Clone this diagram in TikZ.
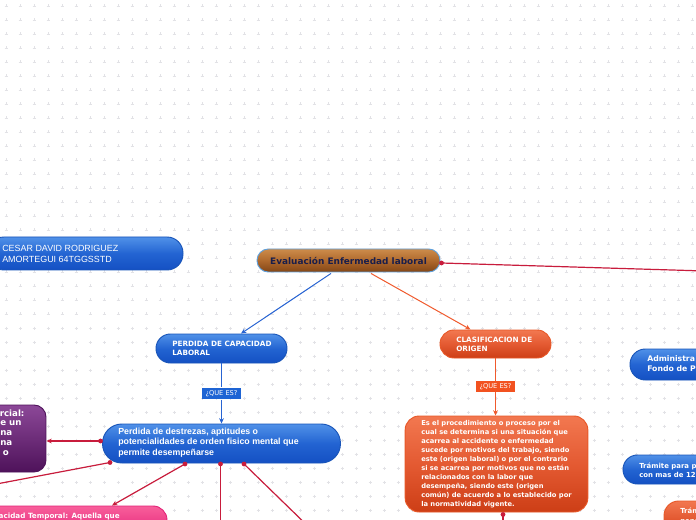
\documentclass[tikz,border=0pt]{standalone}
\usepackage{fontspec}
\setmainfont{Liberation Sans}
\newfontfamily\dejavu{DejaVu Sans}
\usetikzlibrary{arrows.meta,calc}
\definecolor{bluetop}{RGB}{80,145,232}
\definecolor{bluemid}{RGB}{35,100,210}
\definecolor{bluebot}{RGB}{20,80,195}
\definecolor{bluebd}{RGB}{25,85,185}
\definecolor{browntop}{RGB}{205,140,75}
\definecolor{brownmid}{RGB}{175,105,45}
\definecolor{brownbot}{RGB}{130,70,22}
\definecolor{titlebd}{RGB}{95,160,220}
\definecolor{titletxt}{RGB}{25,30,75}
\definecolor{orgtop}{RGB}{242,120,80}
\definecolor{orgmid}{RGB}{228,90,50}
\definecolor{orgbot}{RGB}{205,62,22}
\definecolor{orgbd}{RGB}{232,88,40}
\definecolor{purtop}{RGB}{140,72,152}
\definecolor{purbot}{RGB}{78,18,90}
\definecolor{pinktop}{RGB}{248,95,155}
\definecolor{pinkbot}{RGB}{228,35,120}
\definecolor{qblue}{RGB}{30,100,212}
\definecolor{qorg}{RGB}{242,82,32}
\definecolor{lblue}{RGB}{40,100,210}
\definecolor{lorg}{RGB}{240,90,45}
\definecolor{lred}{RGB}{200,28,60}
\definecolor{gridc}{RGB}{226,226,230}
\tikzset{
  shp/.style={rectangle, inner sep=0pt, line width=0.7pt},
  blueN/.style={shp, draw=bluebd, top color=bluetop, bottom color=bluebot, middle color=bluemid},
  brownN/.style={shp, draw=titlebd, top color=browntop, bottom color=brownbot, middle color=brownmid},
  orgN/.style={shp, draw=orgbd, top color=orgtop, bottom color=orgbot, middle color=orgmid},
  purN/.style={shp, draw=purbot, top color=purtop, bottom color=purbot},
  pinkN/.style={shp, draw=pinkbot, top color=pinktop, bottom color=pinkbot},
  txt/.style={inner sep=0pt, align=left, text=white},
  vb/.style 2 args={font=\dejavu\bfseries\fontsize{#1}{#2}\selectfont},
  qbox/.style={rectangle, inner sep=0pt, text=white, font=\dejavu\fontsize{5}{6}\selectfont, minimum width=29.25pt},
  blueline/.style={draw=lblue, line width=0.75pt},
  orgline/.style={draw=lorg, line width=0.75pt},
  redline/.style={draw=lred, line width=0.9pt},
  tipB/.style={-{Stealth[length=4pt,width=3.6pt]}},
  dot/.style={circle, fill=lred, inner sep=0pt, minimum size=3.6pt},
}
\begin{document}
\begin{tikzpicture}[x=0.75pt,y=-0.75pt]
\useasboundingbox (0,0) rectangle (696,520);
\clip (0,0) rectangle (696,520);
\fill[white] (0,0) rectangle (696,520);
% background grid of small crosses
\foreach \gx in {6,20,...,700}{
  \foreach \gy in {6,20,...,524}{
    \draw[gridc, line width=0.4pt] (\gx-1.5,\gy) -- (\gx+1.5,\gy) (\gx,\gy-1.5) -- (\gx,\gy+1.5);
  }
}
% ---------------- nodes ----------------
\node[blueN, minimum width=146.25pt, minimum height=24.75pt, rounded corners=12pt] (cesar) at (85.5,253.5) {};
\node[txt, anchor=west, font=\fontsize{6.7}{8.25}\selectfont] (cesarT) at (2,253.5) {CESAR DAVID RODRIGUEZ\\AMORTEGUI 64TGGSSTD};

\node[brownN, minimum width=137.25pt, minimum height=17.25pt, rounded corners=8.5pt,
      vb={6.7}{8}, text=titletxt] (title) at (348.5,260.5) {Evaluación Enfermedad laboral};

\node[blueN, minimum width=98.25pt, minimum height=21.75pt, rounded corners=10.8pt] (perd) at (221.5,348.5) {};
\node[txt, anchor=west, vb={5.45}{6.75}] (perdT) at (172,348.5) {PERDIDA DE CAPACIDAD\\LABORAL};

\node[orgN, minimum width=83.25pt, minimum height=21pt, rounded corners=10.5pt] (clas) at (495.5,344) {};
\node[txt, anchor=west, vb={5.45}{6.75}] (clasT) at (456,344.5) {CLASIFICACION DE\\ORIGEN};

\node[qbox, fill=qblue, minimum height=8.7pt] (q1) at (221.5,393.5) {¿QUE ES?};
\node[qbox, fill=qorg, minimum height=8pt] (q2) at (495.5,386.7) {¿QUE ES?};

\node[blueN, minimum width=178.5pt, minimum height=29.25pt, rounded corners=14.5pt] (big) at (221.5,443.5) {};
\node[txt, anchor=west, font=\bfseries\fontsize{6.6}{7.9}\selectfont] (bigT) at (118,442.5) {Perdida de destrezas, aptitudes o\\potencialidades de orden fisico mental que\\permite desempeñarse};

\node[purN, minimum width=49.5pt, minimum height=50.25pt, rounded corners=9pt] (purp) at (13,438.5) {};
\node[txt, anchor=west, vb={6.5}{7.5}] (p1) at (-0.5,413.5) {rcial:};
\node[txt, anchor=west, vb={6.5}{7.5}] (p2) at (0,423.5) {e un};
\node[txt, anchor=west, vb={6.5}{7.5}] (p3) at (0,433.5) {na};
\node[txt, anchor=west, vb={6.5}{7.5}] (p4) at (0,443.5) {na};
\node[txt, anchor=west, vb={6.5}{7.5}] (p5) at (2.5,453) {o};

\node[pinkN, minimum width=140.25pt, minimum height=22.5pt, rounded corners=10.5pt] (pink) at (73.5,521) {};
\node[txt, anchor=east, vb={5.4}{7}] (pinkT) at (120,517) {acidad Temporal: Aquella que};

\node[orgN, minimum width=137pt, minimum height=72pt, rounded corners=10.5pt] (body) at (496.5,464) {};
\node[txt, anchor=west, vb={5.05}{6.75}] (bodyT) at (421,464.5) {Es el procedimiento o proceso por el\\cual se determina si una situación que\\acarrea al accidente o enfermedad\\sucede por motivos del trabajo, siendo\\este (origen laboral) o por el contrario\\si se acarrea por motivos que no están\\relacionados con la labor que\\desempeña, siendo este (origen\\común) de acuerdo a lo establecido por\\la normatividad vigente.};

\node[blueN, minimum width=67.5pt, minimum height=23.25pt, rounded corners=11.5pt] (admin) at (675,364.5) {};
\node[txt, anchor=west, vb={5.8}{7.5}] (adminT) at (647,364) {Administra\\Fondo de P};

\node[blueN, minimum width=72.75pt, minimum height=21.75pt, rounded corners=10.8pt] (tram) at (671.5,469.5) {};
\node[txt, anchor=west, vb={5.2}{7}] (tramT) at (639,470.5) {Trámite para p\\con mas de 12};

\node[orgN, minimum width=42pt, minimum height=25.5pt, rounded corners=11pt] (tram2) at (692,518) {};
\node[txt, anchor=north west, vb={5.2}{7}] (tram2T) at (680,508) {Trám\\pens};

% ---------------- connectors ----------------
\draw[blueline, tipB] ($(title.south)+(-17.5,1)$) -- ($(perd.north)+(19.5,0)$);
\draw[orgline, tipB] ($(title.south)+(22.5,1)$) -- ($(clas.north)+(-25,0)$);

\draw[blueline] (perd.south) -- (q1.north);
\draw[blueline, tipB] (q1.south) -- (q1.south |- big.north);
\draw[orgline] (clas.south) -- (q2.north);
\draw[orgline, tipB] (q2.south) -- (q2.south |- body.north);

% title to the right
\coordinate (tR) at ($(title.east)+(1,2.5)$);
\coordinate (offR) at (705,271);
\draw[redline] (tR) -- (offR);
\node[dot] (dT) at (tR) {};

% from the big node
\coordinate (s1) at ($(big.west)+(-1.5,-2.5)$);
\draw[redline, tipB] (s1) -- (s1 -| purp.east);
\node[dot] (d1) at (s1) {};

\coordinate (s2) at (110,462.5);
\coordinate (offL) at (-30,489);
\draw[redline] (s2) -- (offL);
\node[dot] (d2) at (s2) {};

\coordinate (s3) at ($(big.south)+(-36.5,0.5)$);
\draw[redline, tipB] (s3) -- ($(pink.north)+(38.5,0)$);
\node[dot] (d3) at (s3) {};

\coordinate (s4) at ($(big.south)+(-1,0.5)$);
\coordinate (offB1) at (220.5,530);
\draw[redline] (s4) -- (offB1);
\node[dot] (d4) at (s4) {};

\coordinate (s5) at ($(big.south)+(22.5,0.5)$);
\coordinate (offB2) at (316,534);
\draw[redline] (s5) -- (offB2);
\node[dot] (d5) at (s5) {};

\coordinate (s6) at ($(body.south)+(6.5,2)$);
\coordinate (offB3) at ($(s6)+(0,20)$);
\draw[redline] (s6) -- (offB3);
\node[dot] (d6) at (s6) {};
\end{tikzpicture}
\end{document}
